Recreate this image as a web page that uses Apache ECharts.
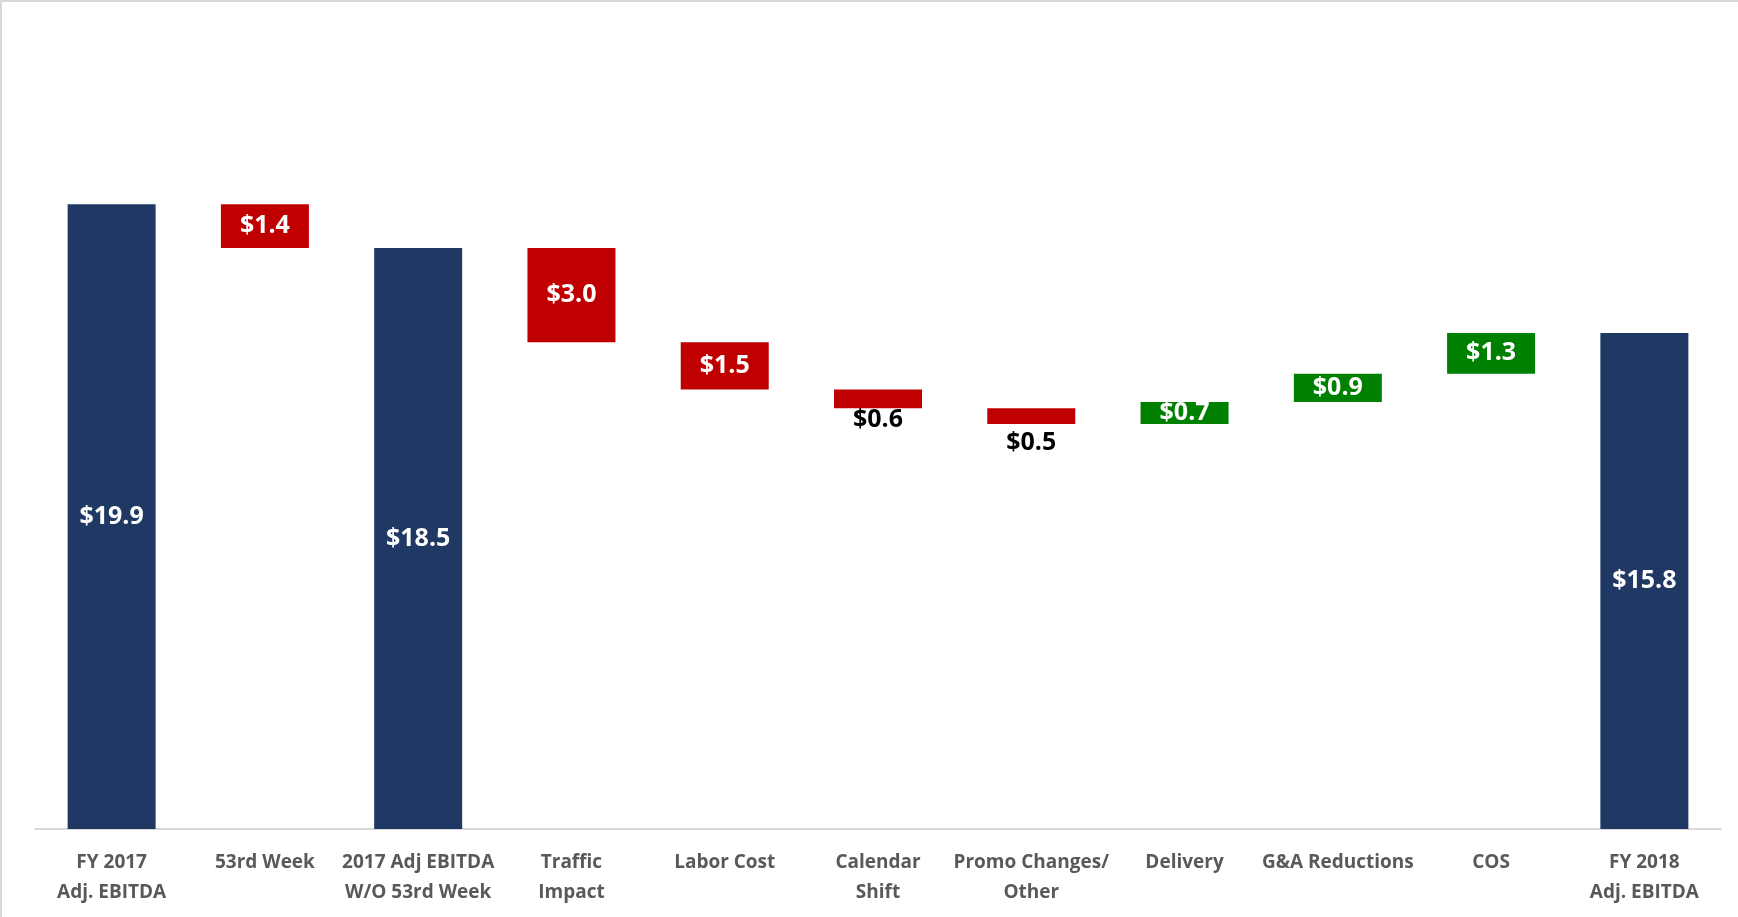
<!DOCTYPE html>
<html>
<head>
<meta charset="utf-8">
<title>Adj. EBITDA Bridge</title>
<script src="https://cdn.jsdelivr.net/npm/echarts@6/dist/echarts.min.js"></script>
<style>
  html, body { margin: 0; padding: 0; background: #fff; }
  #chart {
    width: 1736px; height: 915px;
    border-top: 2px solid #d9d9d9;
    border-left: 2px solid #d9d9d9;
  }
</style>
</head>
<body>
<div id="chart"></div>
<script>
// categories and values ($M)
const categories = [
  'FY 2017\nAdj. EBITDA', '53rd Week', '2017 Adj EBITDA\nW/O 53rd Week', 'Traffic\nImpact',
  'Labor Cost', 'Calendar\nShift', 'Promo Changes/\nOther', 'Delivery',
  'G&A Reductions', 'COS', 'FY 2018\nAdj. EBITDA'
];
// 'total' bars start at zero, the rest are changes
const kinds = ['total', 'change', 'total', 'change', 'change', 'change', 'change', 'change', 'change', 'change', 'total'];
const values = [19.9, -1.4, 18.5, -3.0, -1.5, -0.6, -0.5, 0.7, 0.9, 1.3, 15.8];

const chart = echarts.init(document.getElementById('chart'));

// build the waterfall: invisible base + visible piece
let running = 0;
const baseData = [], totalData = [], downData = [], upData = [];
values.forEach((v, i) => {
  if (kinds[i] === 'total') {
    running = v;
    baseData.push(0); totalData.push(v); downData.push('-'); upData.push('-');
  } else if (v < 0) {
    running += v;
    baseData.push(+running.toFixed(2)); totalData.push('-'); downData.push(-v); upData.push('-');
  } else {
    baseData.push(+running.toFixed(2)); totalData.push('-'); downData.push('-'); upData.push(v);
    running += v;
  }
});

const fmt = p => '$' + Number(p.value).toFixed(1);
const labelFont = { fontFamily: 'Open Sans', fontWeight: 'bold', fontSize: 25 };

// the two thin red bars carry their labels underneath in black
const downSeriesData = downData.map((v, i) => {
  if (v === '-') return v;
  if (Math.abs(values[i]) < 1) {
    return {
      value: v,
      label: { position: 'bottom', distance: i === 5 ? -1 : 6, color: '#000' }
    };
  }
  return v;
});

chart.setOption({
  animation: false,
  grid: { left: 33, right: 17, top: 42, bottom: 88, containLabel: false },
  xAxis: {
    type: 'category',
    data: categories,
    axisLine: { lineStyle: { color: '#d9d9d9', width: 2 } },
    axisTick: { show: false },
    axisLabel: {
      interval: 0,
      margin: 19,
      color: '#595959',
      fontFamily: 'Open Sans',
      fontWeight: 'bold',
      fontSize: 19,
      lineHeight: 30
    }
  },
  yAxis: {
    type: 'value',
    min: 0,
    max: 25,
    show: false,
    splitLine: { show: false }
  },
  series: [
    {
      name: 'base', type: 'bar', stack: 'w', barWidth: 88,
      itemStyle: { color: 'transparent' },
      data: baseData
    },
    {
      name: 'total', type: 'bar', stack: 'w',
      itemStyle: { color: '#203864' },
      label: Object.assign({ show: true, position: 'inside', color: '#fff', formatter: fmt }, labelFont),
      data: totalData
    },
    {
      name: 'decrease', type: 'bar', stack: 'w',
      itemStyle: { color: '#c00000' },
      label: Object.assign({ show: true, position: 'inside', color: '#fff', formatter: fmt }, labelFont),
      data: downSeriesData
    },
    {
      name: 'increase', type: 'bar', stack: 'w',
      itemStyle: { color: '#008000' },
      label: Object.assign({ show: true, position: 'inside', color: '#fff', formatter: fmt }, labelFont),
      data: upData
    }
  ]
});
</script>
</body>
</html>
